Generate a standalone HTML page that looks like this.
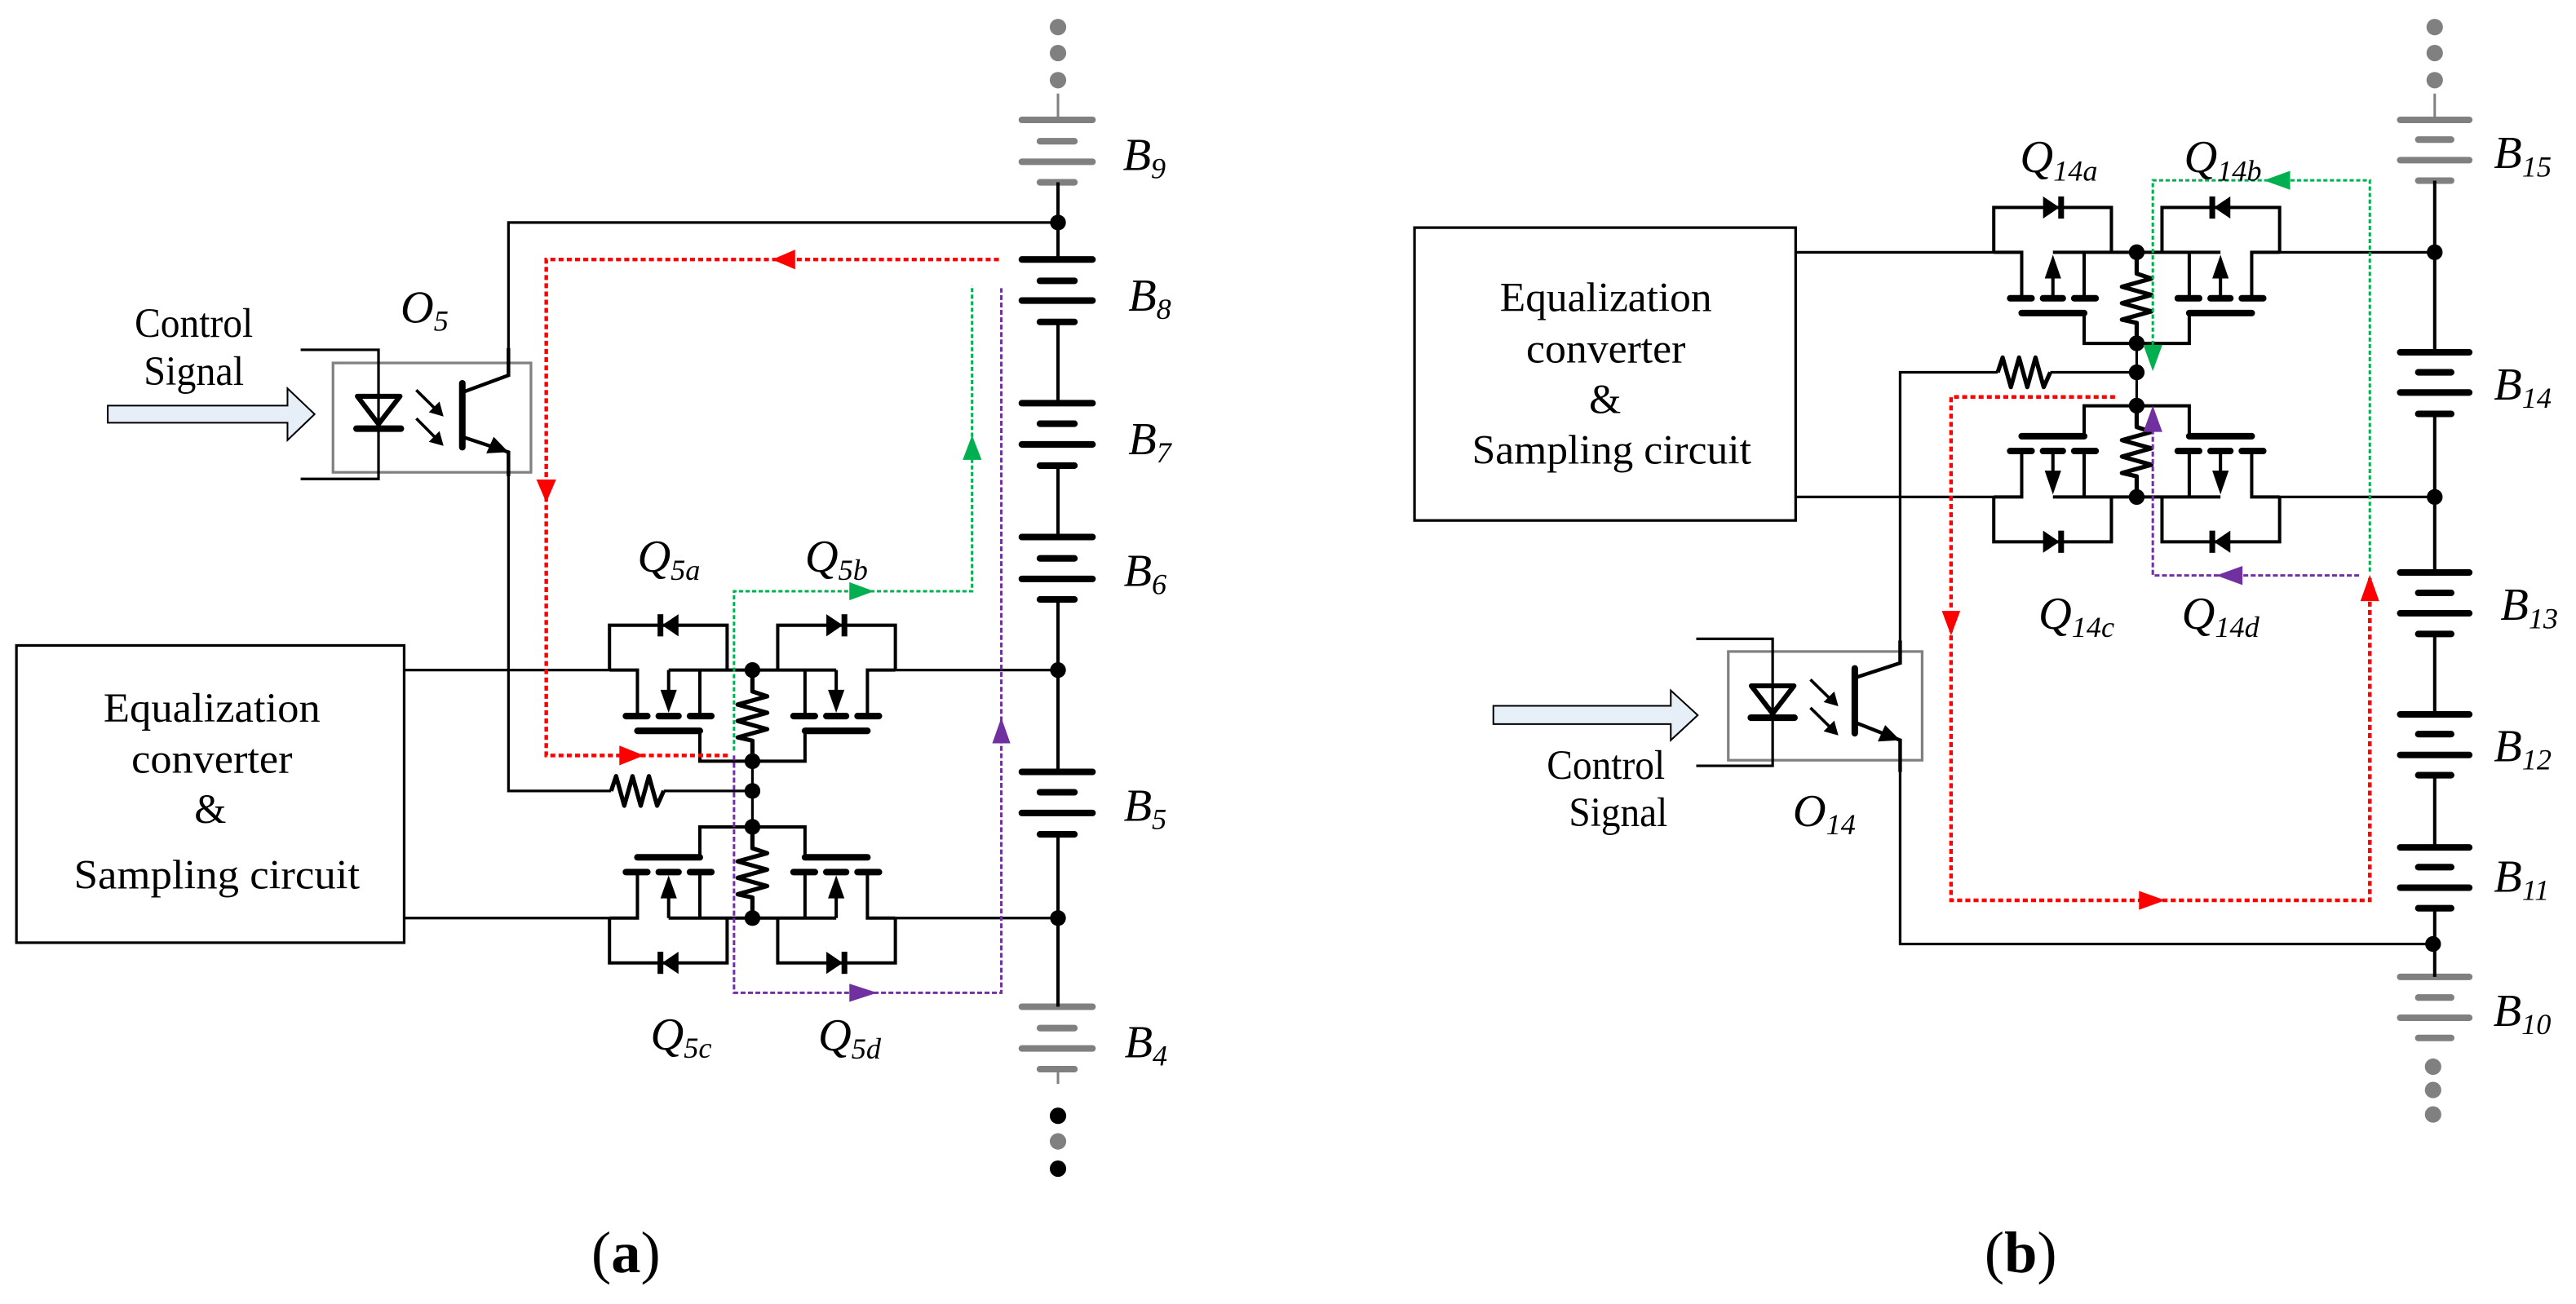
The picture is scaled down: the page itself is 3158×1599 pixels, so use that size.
<!DOCTYPE html>
<html><head><meta charset="utf-8"><style>
html,body{margin:0;padding:0;background:#fff;}
svg{display:block;}
text{font-family:"Liberation Serif",serif;fill:#000;}
.it{font-style:italic;}
</style></head><body>
<svg width="3158" height="1599" viewBox="0 0 1568 794" preserveAspectRatio="none" xmlns="http://www.w3.org/2000/svg">
<defs>
<g id="hA" fill="none" stroke="#000">
  <path d="M-87,0 V-27.3 H-15.4 V0" stroke-width="2"/>
  <path d="M-87,0 H-70 V28" stroke-width="2"/>
  <path d="M-51,0 H0 M-32,0 V28 M-51,0 V14" stroke-width="2"/>
  <polygon points="-56,12 -46,12 -51,26" fill="#000" stroke="none"/>
  <path d="M-77,28 H-64 M-57,28 H-45 M-38,28 H-25" stroke-width="4" stroke-linecap="round"/>
  <path d="M-70,37 H-32" stroke-width="4" stroke-linecap="round"/>
  <path d="M-32,37 V55.5 H0" stroke-width="2"/>
  <polygon points="-45,-34 -45,-20.5 -55,-27.3" fill="#000" stroke="none"/>
  <path d="M-56,-34 V-20.5" stroke-width="3.5"/>
</g>
<g id="hB" fill="none" stroke="#000">
  <path d="M-87,0 V-27.3 H-15.4 V0" stroke-width="2"/>
  <path d="M-87,0 H-70 V28" stroke-width="2"/>
  <path d="M-51,0 H0 M-32,0 V28 M-51,14 V28" stroke-width="2"/>
  <polygon points="-56,16 -46,16 -51,1.5" fill="#000" stroke="none"/>
  <path d="M-77,28 H-64 M-57,28 H-45 M-38,28 H-25" stroke-width="4" stroke-linecap="round"/>
  <path d="M-70,37 H-32" stroke-width="4" stroke-linecap="round"/>
  <path d="M-32,37 V55.5 H0" stroke-width="2"/>
  <polygon points="-57,-34 -57,-20.5 -47,-27.3" fill="#000" stroke="none"/>
  <path d="M-46,-34 V-20.5" stroke-width="3.5"/>
</g>
<path id="vres" d="M0,0 V13 L9,16 L-9,21 L9,26 L-9,31 L9,36 L-9,41 L0,43 V55.5" fill="none" stroke="#000" stroke-width="2.6" stroke-linejoin="round"/>
</defs>

<!-- ================= PANEL A ================= -->
<!-- battery string -->
<g fill="#808080"><circle cx="644" cy="16.5" r="5"/><circle cx="644" cy="32.3" r="5"/><circle cx="644" cy="48.8" r="5"/></g>
<g stroke="#808080" stroke-width="4" stroke-linecap="round">
<path d="M622,73 H665 M633,86 H654 M622,98.5 H665 M633,111 H654"/>
<path d="M622,613 H665 M633,626 H654 M622,638.4 H665 M633,651 H654"/>
</g>
<path d="M644,57 V73 M644,651 V660" stroke="#808080" stroke-width="1.5"/>
<g fill="#000"><circle cx="644" cy="679.4" r="5"/><circle cx="644" cy="711.6" r="5"/></g>
<circle cx="644" cy="695" r="5" fill="#808080"/>
<g stroke="#000" stroke-width="4" stroke-linecap="round">
<path d="M622,158 H665 M633,171 H654 M622,183 H665 M633,196 H654"/>
<path d="M622,245.5 H665 M633,258 H654 M622,270.6 H665 M633,283.5 H654"/>
<path d="M622,327 H665 M633,340 H654 M622,352.5 H665 M633,365 H654"/>
<path d="M622,470 H665 M633,482.4 H654 M622,495 H665 M633,508 H654"/>
</g>
<path d="M644,111 V158 M644,196 V245.5 M644,283.5 V327 M644,365 V470 M644,508 V613" stroke="#000" stroke-width="2"/>
<g fill="#000"><circle cx="644" cy="135.5" r="4.8"/><circle cx="644" cy="408" r="4.8"/><circle cx="644" cy="559" r="4.8"/></g>

<!-- wires -->
<g fill="none" stroke="#000" stroke-width="1.6">
<path d="M644,135.5 H309.5 V229"/>
<path d="M309.5,275.3 V481.6 H372 M404,481.6 H458"/>
<path d="M246,408 H371 M545,408 H644 M246,559 H371 M545,559 H644"/>
<path d="M458,463.5 V503.5"/>
</g>
<path d="M372,481.6 L375,472.6 L380,490.6 L385,472.6 L390,490.6 L395,472.6 L400,490.6 L404,481.6" fill="none" stroke="#000" stroke-width="2.6" stroke-linejoin="round"/>
<!-- mosfets a -->
<use href="#hA" transform="translate(458,408)"/>
<use href="#hA" transform="translate(458,408) scale(-1,1)"/>
<use href="#hA" transform="translate(458,559) scale(1,-1)"/>
<use href="#hA" transform="translate(458,559) scale(-1,-1)"/>
<use href="#vres" transform="translate(458,408)"/>
<use href="#vres" transform="translate(458,503.5)"/>
<g fill="#000"><circle cx="458" cy="408" r="4.8"/><circle cx="458" cy="463.5" r="4.8"/><circle cx="458" cy="481.6" r="4.8"/><circle cx="458" cy="503.5" r="4.8"/><circle cx="458" cy="559" r="4.8"/></g>

<!-- equalization box a -->
<rect x="10" y="393" width="236" height="181" fill="none" stroke="#000" stroke-width="1.6"/>
<text x="129" y="439.5" font-size="25" text-anchor="middle" textLength="132" lengthAdjust="spacingAndGlyphs">Equalization</text>
<text x="129" y="470.5" font-size="25" text-anchor="middle" textLength="98" lengthAdjust="spacingAndGlyphs">converter</text>
<text x="128" y="501" font-size="25" text-anchor="middle">&amp;</text>
<text x="132" y="541" font-size="25" text-anchor="middle" textLength="174" lengthAdjust="spacingAndGlyphs">Sampling circuit</text>

<!-- optocoupler a -->
<rect x="202.7" y="221" width="120.5" height="66.6" fill="none" stroke="#808080" stroke-width="1.6"/>
<path d="M183,213 H230.4 V291.6 H183" fill="none" stroke="#000" stroke-width="1.6"/>
<polygon points="217.5,241.3 243.5,241.3 230.4,258.2" fill="none" stroke="#000" stroke-width="3" stroke-linejoin="round"/>
<path d="M217,261 H244" stroke="#000" stroke-width="4" stroke-linecap="round"/>
<path d="M281.4,233.4 V272.3" stroke="#000" stroke-width="4" stroke-linecap="round"/>
<path d="M283,238.3 L309.5,228.5 V212 M283,266.5 L309.5,275.3 V290" fill="none" stroke="#000" stroke-width="2.2"/>
<polygon points="309.5,275.3 296,276 300.5,266" fill="#000"/>
<g stroke="#000" stroke-width="1.8"><path d="M253.4,237.5 L266,250 M253.4,254.8 L266,267.5"/></g>
<polygon points="270,253.6 261,251 267.5,244.5" fill="#000"/>
<polygon points="270,271.5 261,269 267.5,262.5" fill="#000"/>
<polygon points="65.6,247 175,247 175,236.5 191.5,252.2 175,268 175,257.4 65.6,257.4" fill="#e6eef8" stroke="#000" stroke-width="1"/>
<text x="118" y="205" font-size="25" text-anchor="middle" textLength="72" lengthAdjust="spacingAndGlyphs">Control</text>
<text x="118" y="234.5" font-size="25" text-anchor="middle" textLength="61" lengthAdjust="spacingAndGlyphs">Signal</text>
<text x="243.8" y="196.4" font-size="28" class="it">O<tspan font-size="18" dy="5">5</tspan></text>

<!-- colored paths a -->
<path d="M608,158 H332.5 V460 H443" fill="none" stroke="#ff0000" stroke-width="2.2" stroke-dasharray="3 2"/>
<path d="M446.8,457 V360 H591.7 V173.8" fill="none" stroke="#00b050" stroke-width="1.5" stroke-dasharray="2.5 1.5"/>
<path d="M446.8,460 V604.5 H609.5 V175.5" fill="none" stroke="#7030a0" stroke-width="1.5" stroke-dasharray="3 1.5"/>
<polygon points="470,158 484,152 484,164" fill="#ff0000"/>
<polygon points="332.5,306 326.5,292 338.5,292" fill="#ff0000"/>
<polygon points="392,460 377,454 377,466" fill="#ff0000"/>
<polygon points="532,360 517,354.5 517,365.5" fill="#00b050"/>
<polygon points="591.7,265 586,280 597.5,280" fill="#00b050"/>
<polygon points="534,604.5 517,599 517,610" fill="#7030a0"/>
<polygon points="609.5,437 604,452.6 615,452.6" fill="#7030a0"/>

<!-- labels a -->
<text x="388" y="348" font-size="28" class="it">Q<tspan font-size="18" dy="5">5a</tspan></text>
<text x="490" y="348" font-size="28" class="it">Q<tspan font-size="18" dy="5">5b</tspan></text>
<text x="396" y="639" font-size="28" class="it">Q<tspan font-size="18" dy="5">5c</tspan></text>
<text x="498" y="639.6" font-size="28" class="it">Q<tspan font-size="18" dy="5">5d</tspan></text>
<text x="683.5" y="103.6" font-size="28" class="it">B<tspan font-size="18" dy="5">9</tspan></text>
<text x="686.8" y="189.2" font-size="28" class="it">B<tspan font-size="18" dy="5">8</tspan></text>
<text x="686.8" y="276.6" font-size="28" class="it">B<tspan font-size="18" dy="5">7</tspan></text>
<text x="684" y="356.7" font-size="28" class="it">B<tspan font-size="18" dy="5">6</tspan></text>
<text x="684" y="499.8" font-size="28" class="it">B<tspan font-size="18" dy="5">5</tspan></text>
<text x="684.5" y="643.8" font-size="28" class="it">B<tspan font-size="18" dy="5">4</tspan></text>
<text x="360" y="774.6" font-size="36">(<tspan font-weight="bold">a</tspan>)</text>

<!-- ================= PANEL B ================= -->
<g fill="#808080"><circle cx="1482" cy="16.5" r="5"/><circle cx="1482" cy="32.3" r="5"/><circle cx="1482" cy="48.8" r="5"/>
<circle cx="1481" cy="649.5" r="5"/><circle cx="1481" cy="663.7" r="5"/><circle cx="1481" cy="678.6" r="5"/></g>
<g stroke="#808080" stroke-width="4" stroke-linecap="round">
<path d="M1461,73 H1503 M1472,85 H1492 M1461,97.5 H1503 M1472,110 H1492"/>
<path d="M1461,594.8 H1503 M1472,607.4 H1492 M1461,619.7 H1503 M1472,632 H1492"/>
</g>
<path d="M1482,57 V73" stroke="#808080" stroke-width="1.5"/>
<g stroke="#000" stroke-width="4" stroke-linecap="round">
<path d="M1461,214.5 H1503 M1472,226.7 H1492 M1461,239 H1503 M1472,252 H1492"/>
<path d="M1461,348.6 H1503 M1472,361 H1492 M1461,373.4 H1503 M1472,386 H1492"/>
<path d="M1461,435 H1503 M1472,447 H1492 M1461,459.7 H1503 M1472,472 H1492"/>
<path d="M1461,516 H1503 M1472,528 H1492 M1461,540.5 H1503 M1472,553 H1492"/>
</g>
<path d="M1482,110 V214.5 M1482,252 V348.6 M1482,386 V435 M1482,472 V516 M1482,553 V594.8" stroke="#000" stroke-width="2"/>
<g fill="#000"><circle cx="1482" cy="153.6" r="4.8"/><circle cx="1482" cy="302.6" r="4.8"/><circle cx="1481" cy="574.8" r="4.8"/></g>

<g fill="none" stroke="#000" stroke-width="1.6">
<path d="M1093,153.6 H1215 M1386,153.6 H1482 M1093,302.6 H1215 M1386,302.6 H1482"/>
<path d="M1156.6,403.7 V226.7 H1216 M1248,226.7 H1300.6"/>
<path d="M1156.6,450.7 V574.8 H1481"/>
<path d="M1300.6,209 V247"/>
</g>
<path d="M1216,226.7 L1219,217.7 L1224,235.7 L1229,217.7 L1234,235.7 L1239,217.7 L1244,235.7 L1248,226.7" fill="none" stroke="#000" stroke-width="2.6" stroke-linejoin="round"/>
<use href="#hB" transform="translate(1300.6,153.6)"/>
<use href="#hB" transform="translate(1300.6,153.6) scale(-1,1)"/>
<use href="#hB" transform="translate(1300.6,302.6) scale(1,-1)"/>
<use href="#hB" transform="translate(1300.6,302.6) scale(-1,-1)"/>
<use href="#vres" transform="translate(1300.6,153.6)"/>
<use href="#vres" transform="translate(1300.6,247)"/>
<g fill="#000"><circle cx="1300.6" cy="153.6" r="4.8"/><circle cx="1300.6" cy="209" r="4.8"/><circle cx="1300.6" cy="226.7" r="4.8"/><circle cx="1300.6" cy="247" r="4.8"/><circle cx="1300.6" cy="302.6" r="4.8"/></g>

<rect x="861" y="138.6" width="232" height="178.3" fill="none" stroke="#000" stroke-width="1.6"/>
<text x="977.5" y="189.4" font-size="25" text-anchor="middle" textLength="129" lengthAdjust="spacingAndGlyphs">Equalization</text>
<text x="977.5" y="220.8" font-size="25" text-anchor="middle" textLength="97" lengthAdjust="spacingAndGlyphs">converter</text>
<text x="977" y="251.4" font-size="25" text-anchor="middle">&amp;</text>
<text x="981" y="282.4" font-size="25" text-anchor="middle" textLength="170" lengthAdjust="spacingAndGlyphs">Sampling circuit</text>

<rect x="1052" y="396.7" width="118" height="66.2" fill="none" stroke="#808080" stroke-width="1.6"/>
<path d="M1032.5,389 H1079 V466.3 H1032.5" fill="none" stroke="#000" stroke-width="1.6"/>
<polygon points="1066,417.6 1092,417.6 1079,434.5" fill="none" stroke="#000" stroke-width="3" stroke-linejoin="round"/>
<path d="M1065.7,437 H1092.3" stroke="#000" stroke-width="4" stroke-linecap="round"/>
<path d="M1129,407 V446.5" stroke="#000" stroke-width="4" stroke-linecap="round"/>
<path d="M1130,412.4 L1156.6,403.7 V390 M1130,440.2 L1156.6,450.7 V470" fill="none" stroke="#000" stroke-width="2.2"/>
<polygon points="1156.6,450.7 1143,451.5 1147.5,441.5" fill="#000"/>
<g stroke="#000" stroke-width="1.8"><path d="M1102,413.8 L1115,426.5 M1102,431 L1115,443.8"/></g>
<polygon points="1119,430 1110,427.5 1116.5,421" fill="#000"/>
<polygon points="1119,447.8 1110,445.3 1116.5,438.8" fill="#000"/>
<polygon points="909,429.8 1017,429.8 1017,420.4 1033.4,435.5 1017,450.7 1017,440.9 909,440.9" fill="#e6eef8" stroke="#000" stroke-width="1"/>
<text x="977.5" y="474.2" font-size="25" text-anchor="middle" textLength="72" lengthAdjust="spacingAndGlyphs">Control</text>
<text x="985" y="503.1" font-size="25" text-anchor="middle" textLength="60" lengthAdjust="spacingAndGlyphs">Signal</text>
<text x="1091.3" y="503" font-size="28" class="it">O<tspan font-size="18" dy="5">14</tspan></text>

<path d="M1287.4,241.7 H1187.6 V548.2 H1442.5 V352" fill="none" stroke="#ff0000" stroke-width="2.2" stroke-dasharray="3 2"/>
<path d="M1442.5,348 V109.8 H1310.4 V218" fill="none" stroke="#00b050" stroke-width="1.5" stroke-dasharray="2.5 1.5"/>
<path d="M1436,350.4 H1310.4 V258" fill="none" stroke="#7030a0" stroke-width="1.5" stroke-dasharray="3 1.5"/>
<polygon points="1187.6,387 1182,372 1193.2,372" fill="#ff0000"/>
<polygon points="1318,548.2 1302,542.5 1302,554" fill="#ff0000"/>
<polygon points="1442.5,350 1436.8,366 1448.2,366" fill="#ff0000"/>
<polygon points="1378,109.8 1394,104 1394,115.6" fill="#00b050"/>
<polygon points="1310.4,226 1304.6,210 1316.2,210" fill="#00b050"/>
<polygon points="1349,350.4 1365,344.6 1365,356.2" fill="#7030a0"/>
<polygon points="1310.4,247 1304.6,263 1316.2,263" fill="#7030a0"/>

<text x="1229.6" y="104.9" font-size="28" class="it">Q<tspan font-size="18" dy="5">14a</tspan></text>
<text x="1329.4" y="104.9" font-size="28" class="it">Q<tspan font-size="18" dy="5">14b</tspan></text>
<text x="1240.8" y="382.8" font-size="28" class="it">Q<tspan font-size="18" dy="5">14c</tspan></text>
<text x="1328" y="382.8" font-size="28" class="it">Q<tspan font-size="18" dy="5">14d</tspan></text>
<text x="1518" y="102.4" font-size="28" class="it">B<tspan font-size="18" dy="5">15</tspan></text>
<text x="1518" y="243.4" font-size="28" class="it">B<tspan font-size="18" dy="5">14</tspan></text>
<text x="1522" y="377.5" font-size="28" class="it">B<tspan font-size="18" dy="5">13</tspan></text>
<text x="1518" y="463.6" font-size="28" class="it">B<tspan font-size="18" dy="5">12</tspan></text>
<text x="1518" y="542.9" font-size="28" class="it">B<tspan font-size="18" dy="5">11</tspan></text>
<text x="1517.7" y="624.7" font-size="28" class="it">B<tspan font-size="18" dy="5">10</tspan></text>
<text x="1208" y="774.6" font-size="36">(<tspan font-weight="bold">b</tspan>)</text>
</svg>
</body></html>
